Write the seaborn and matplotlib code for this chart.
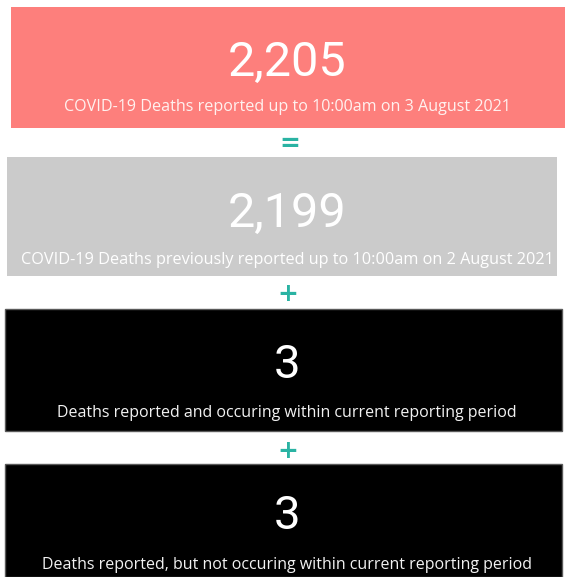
import seaborn as sns
import matplotlib.pyplot as plt
from matplotlib.patches import Rectangle

# --- DATA ---
VALUES = [2205, 2199, 3, 3]
LABELS = [
    "COVID-19 Deaths reported up to 10:00am on 3 August 2021",
    "COVID-19 Deaths previously reported up to 10:00am on 2 August 2021",
    "Deaths reported and occuring within current reporting period",
    "Deaths reported, but not occuring within current reporting period",
]
OPERATORS = ["=", "+", "+"]

# --- LAYOUT (pixels, origin top-left) ---
CARDS = [  # x0, x1, y0, y1, value_y, label_y
    (11, 565, 7, 128, 63, 107),
    (7, 557, 157, 276, 214, 260),
    (5, 562, 309, 431, 365, 413),
    (5, 562, 464, 577, 516, 565),
]
OP_POS = [(290, 144), (288, 294), (288, 451)]
CARD_COLORS = ["#FD7F7C", "#CBCBCB", "#000000", "#000000"]
EDGE_COLORS = ["none", "none", "#5a5a5a", "#5a5a5a"]
VALUE_SIZE = [35, 35, 34, 34]
LABEL_SIZE = [11.6, 11.7, 11.5, 11.5]
LABEL_COLORS = ["#FFF1EF", "#FFFFFF", "#F2F2F2", "#F2F2F2"]
TEAL = "#2AB3A3"

sns.set_theme(style="white")
plt.rcParams['font.family'] = ['Open Sans', 'DejaVu Sans']

fig = plt.figure(figsize=(5.65, 5.77), dpi=100)
ax = fig.add_axes([0, 0, 1, 1])
ax.set_xlim(0, 565)
ax.set_ylim(577, 0)
ax.axis('off')

for i, (x0, x1, y0, y1, vy, ly) in enumerate(CARDS):
    ax.add_patch(Rectangle((x0, y0), x1 - x0, y1 - y0, facecolor=CARD_COLORS[i],
                           edgecolor=EDGE_COLORS[i], linewidth=1))
    cx = 287
    ax.text(cx, vy, f"{VALUES[i]:,}", ha='center', va='center', color='white',
            fontsize=VALUE_SIZE[i], family='Roboto')
    ax.text(cx, ly, LABELS[i], ha='center', va='center', color=LABEL_COLORS[i],
            fontsize=LABEL_SIZE[i])

for op, (ox, oy) in zip(OPERATORS, OP_POS):
    ax.text(ox, oy, op, ha='center', va='center', color=TEAL, fontsize=18,
            fontweight='bold', family='DejaVu Sans')

plt.savefig("out.png", dpi=100)
plt.close()
